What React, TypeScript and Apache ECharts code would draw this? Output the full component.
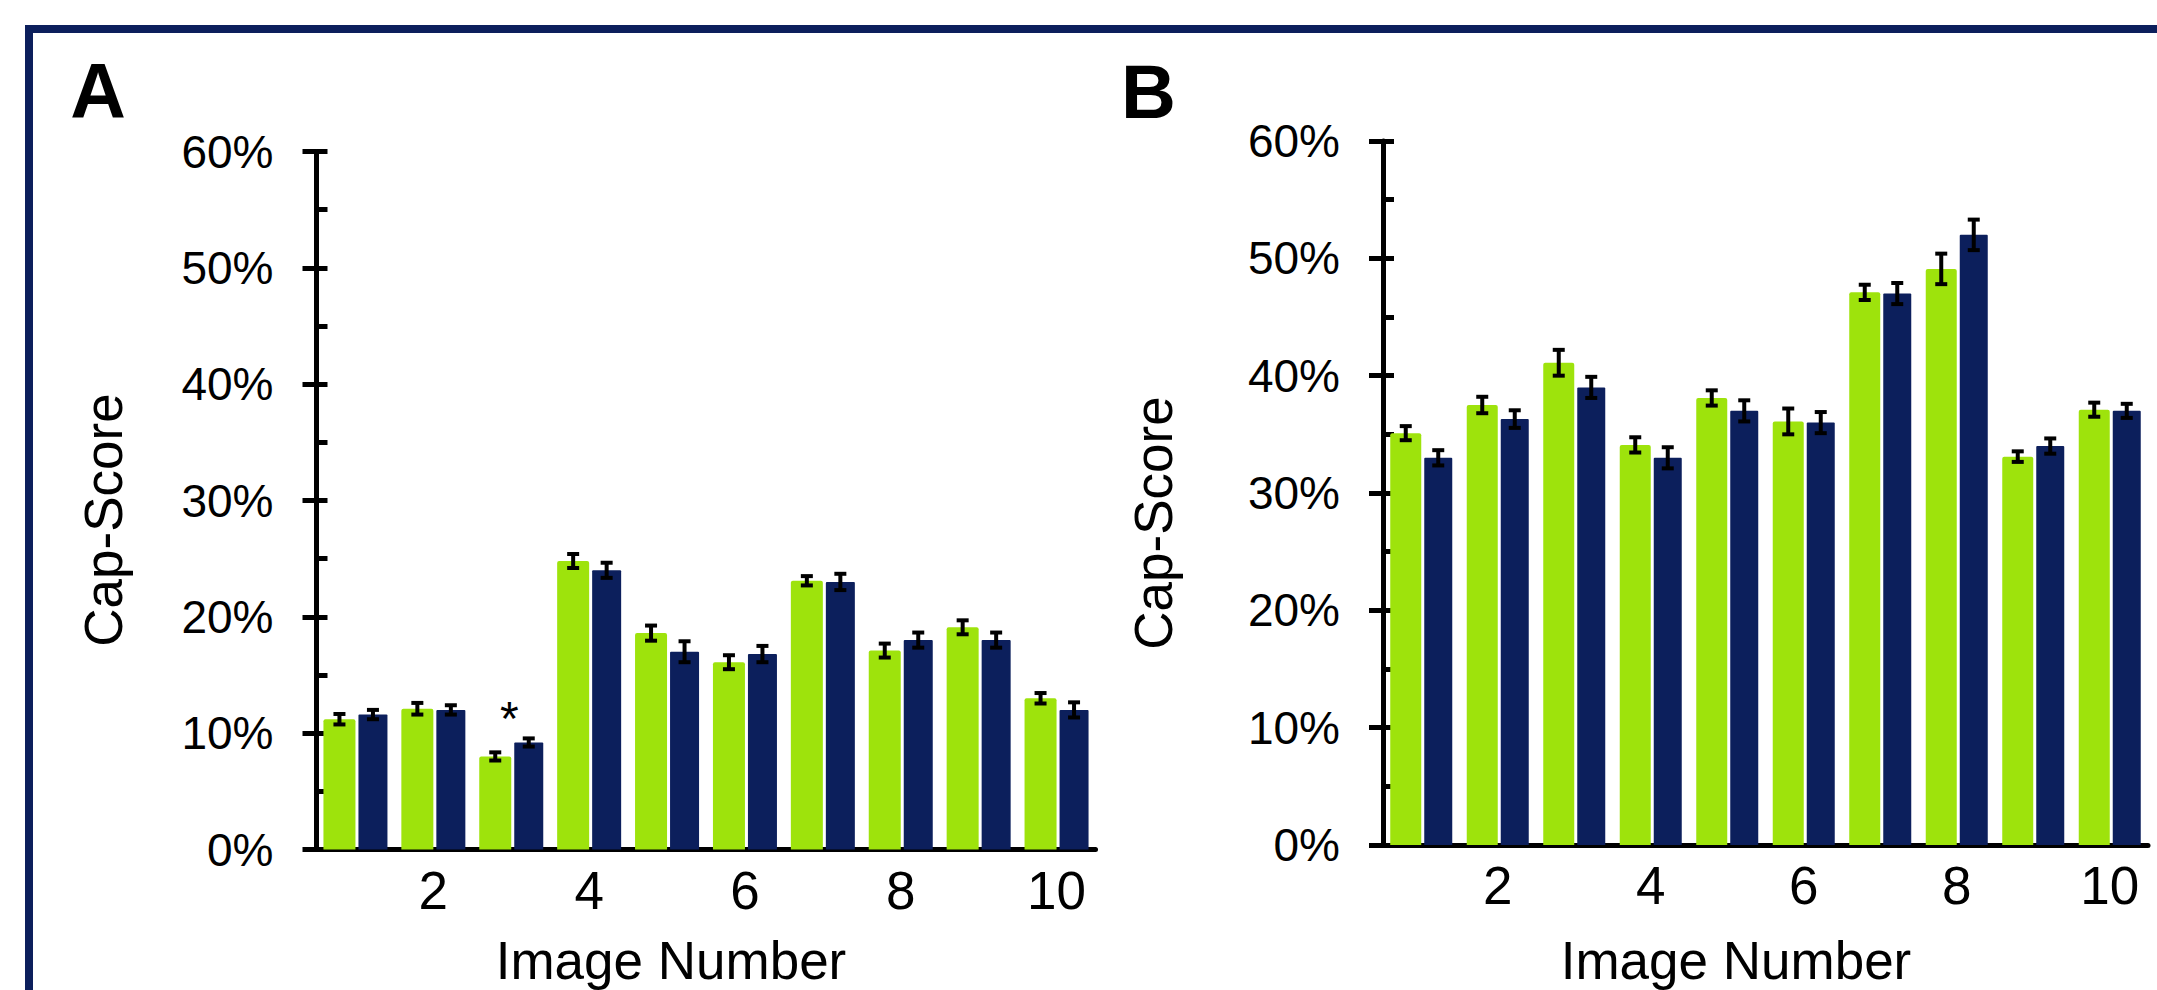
import React, { useEffect, useRef } from 'react';
import * as echarts from 'echarts';

// ---------- data ----------
const categories = ['1', '2', '3', '4', '5', '6', '7', '8', '9', '10'];

const panelAGreen = [11.2, 12.1, 8.0, 24.8, 18.6, 16.1, 23.1, 17.1, 19.1, 13.0];
const panelAGreenErr = [0.45, 0.5, 0.35, 0.6, 0.65, 0.6, 0.4, 0.6, 0.6, 0.45];
const panelABlue = [11.6, 12.0, 9.2, 24.0, 17.0, 16.8, 23.0, 18.0, 18.0, 12.0];
const panelABlueErr = [0.4, 0.4, 0.35, 0.65, 0.9, 0.7, 0.7, 0.65, 0.65, 0.65];
const panelAMarks = ['', '', '*', '', '', '', '', '', '', ''];

const panelBGreen = [35.1, 37.5, 41.1, 34.1, 38.1, 36.1, 47.1, 49.1, 33.1, 37.1];
const panelBGreenErr = [0.6, 0.7, 1.1, 0.65, 0.65, 1.1, 0.65, 1.3, 0.45, 0.6];
const panelBBlue = [33.0, 36.3, 39.0, 33.0, 37.0, 36.0, 47.0, 52.0, 34.0, 37.0];
const panelBBlueErr = [0.65, 0.75, 0.9, 0.9, 0.9, 0.9, 0.9, 1.3, 0.65, 0.6];

const yMin = 0;
const yMax = 60;
const yMajor = 10;
const yMinor = 5;

const panelLabels = ['A', 'B'];
const yAxisTitle = 'Cap-Score';
const xAxisTitle = 'Image Number';

// ---------- style ----------
const FONT = "'Liberation Sans', Arial, Helvetica, sans-serif";
const GREEN = '#9ee30c';
const NAVY = '#0c1f5c';
const BLACK = '#000000';

const W = 2157;
const H = 990;

type Panel = {
  grid: { left: number; top: number; width: number; height: number };
  green: number[];
  greenErr: number[];
  blue: number[];
  blueErr: number[];
  marks: string[];
  gW: number;
  bW: number;
  gap: number;
};

const panels: Panel[] = [
  {
    grid: { left: 316.5, top: 151.5, width: 779, height: 698 },
    green: panelAGreen,
    greenErr: panelAGreenErr,
    blue: panelABlue,
    blueErr: panelABlueErr,
    marks: panelAMarks,
    gW: 32,
    bW: 29,
    gap: 3,
  },
  {
    grid: { left: 1383, top: 141, width: 765, height: 704 },
    green: panelBGreen,
    greenErr: panelBGreenErr,
    blue: panelBBlue,
    blueErr: panelBBlueErr,
    marks: panelAMarks.map(() => ''),
    gW: 31,
    bW: 28,
    gap: 3,
  },
];

function buildOption() {
  const grid: any[] = [];
  const xAxis: any[] = [];
  const yAxis: any[] = [];
  const series: any[] = [];

  panels.forEach((p, gi) => {
    grid.push({
      left: p.grid.left,
      top: p.grid.top,
      width: p.grid.width,
      height: p.grid.height,
      containLabel: false,
      outerBoundsMode: 'none',
    });
    xAxis.push({
      type: 'category',
      gridIndex: gi,
      data: categories,
      boundaryGap: true,
      axisLine: { show: true, onZero: false, lineStyle: { color: BLACK, width: 5 } },
      axisTick: { show: false },
      splitLine: { show: false },
      axisLabel: {
        show: true,
        interval: (index: number) => index % 2 === 1,
        color: BLACK,
        fontFamily: FONT,
        fontSize: 53,
        margin: 14,
      },
    });
    // main value axis with outward major ticks + labels
    yAxis.push({
      type: 'value',
      gridIndex: gi,
      position: 'left',
      min: yMin,
      max: yMax,
      interval: yMajor,
      axisLine: { show: true, lineStyle: { color: BLACK, width: 5 } },
      axisTick: { show: true, inside: false, length: 14, lineStyle: { color: BLACK, width: 5 } },
      splitLine: { show: false },
      axisLabel: {
        show: true,
        formatter: '{value}%',
        color: BLACK,
        fontFamily: FONT,
        fontSize: 46,
        margin: 43,
      },
    });
    // helper value axis for inside (minor + major) ticks
    yAxis.push({
      type: 'value',
      gridIndex: gi,
      position: 'left',
      min: yMin,
      max: yMax,
      interval: yMinor,
      axisLine: { show: false },
      axisTick: { show: true, inside: true, length: 11, lineStyle: { color: BLACK, width: 5 } },
      splitLine: { show: false },
      axisLabel: { show: false },
    });

    const yIdx = gi * 2;
    const barGap = ((p.gap / p.gW) * 100).toFixed(2) + '%';
    series.push({
      type: 'bar',
      xAxisIndex: gi,
      yAxisIndex: yIdx,
      data: p.green,
      barWidth: p.gW,
      barGap,
      itemStyle: { color: GREEN, borderRadius: [2, 2, 0, 0] },
      z: 2,
    });
    series.push({
      type: 'bar',
      xAxisIndex: gi,
      yAxisIndex: yIdx,
      data: p.blue,
      barWidth: p.bW,
      barGap,
      itemStyle: { color: NAVY, borderRadius: [1, 1, 0, 0] },
      z: 2,
    });

    const total = p.gW + p.gap + p.bW;
    const offsets = [-total / 2 + p.gW / 2, -total / 2 + p.gW + p.gap + p.bW / 2];
    const errData: number[][] = [];
    p.green.forEach((v, i) => errData.push([i, v, p.greenErr[i], 0]));
    p.blue.forEach((v, i) => errData.push([i, v, p.blueErr[i], 1]));

    series.push({
      type: 'custom',
      xAxisIndex: gi,
      yAxisIndex: yIdx,
      data: errData,
      z: 5,
      encode: { x: 0, y: 1 },
      renderItem: (params: any, api: any) => {
        const i = api.value(0);
        const v = api.value(1);
        const e = api.value(2);
        const slot = api.value(3);
        const top = api.coord([i, v + e]);
        const bot = api.coord([i, v - e]);
        const x = top[0] + offsets[slot];
        const style = { stroke: BLACK, lineWidth: 4 };
        return {
          type: 'group',
          children: [
            { type: 'line', shape: { x1: x, y1: top[1], x2: x, y2: bot[1] }, style },
            { type: 'line', shape: { x1: x - 6, y1: top[1], x2: x + 6, y2: top[1] }, style },
            { type: 'line', shape: { x1: x - 6, y1: bot[1], x2: x + 6, y2: bot[1] }, style },
          ],
        };
      },
    });

    const markData: any[] = [];
    p.marks.forEach((m, i) => {
      if (m) {
        markData.push([i, Math.max(p.green[i] + p.greenErr[i], p.blue[i] + p.blueErr[i]), i]);
      }
    });
    if (markData.length) {
      series.push({
        type: 'custom',
        xAxisIndex: gi,
        yAxisIndex: yIdx,
        data: markData,
        z: 6,
        encode: { x: 0, y: 1 },
        renderItem: (params: any, api: any) => {
          const i = api.value(0);
          const v = api.value(1);
          const pt = api.coord([i, v]);
          return {
            type: 'text',
            x: pt[0] - 2,
            y: pt[1] - 20,
            style: {
              text: p.marks[i],
              fill: BLACK,
              fontFamily: FONT,
              fontSize: 48,
              align: 'center',
              verticalAlign: 'middle',
            },
          };
        },
      });
    }
  });

  const graphic: any[] = [
    {
      type: 'rect',
      silent: true,
      shape: { x: 29, y: 29, width: 2400, height: 1200 },
      style: { fill: 'none', stroke: NAVY, lineWidth: 8 },
      z: 0,
    },
    {
      type: 'text',
      x: 98,
      y: 91,
      style: { text: panelLabels[0], fill: BLACK, fontFamily: FONT, fontSize: 77, fontWeight: 'bold', align: 'center', verticalAlign: 'middle' },
    },
    {
      type: 'text',
      x: 1148.5,
      y: 91,
      style: { text: panelLabels[1], fill: BLACK, fontFamily: FONT, fontSize: 76, fontWeight: 'bold', align: 'center', verticalAlign: 'middle' },
    },
    {
      type: 'text',
      x: 103,
      y: 520,
      rotation: Math.PI / 2,
      style: { text: yAxisTitle, fill: BLACK, fontFamily: FONT, fontSize: 53, align: 'center', verticalAlign: 'middle' },
    },
    {
      type: 'text',
      x: 1153,
      y: 523,
      rotation: Math.PI / 2,
      style: { text: yAxisTitle, fill: BLACK, fontFamily: FONT, fontSize: 53, align: 'center', verticalAlign: 'middle' },
    },
    {
      type: 'text',
      x: 671,
      y: 960,
      style: { text: xAxisTitle, fill: BLACK, fontFamily: FONT, fontSize: 53, align: 'center', verticalAlign: 'middle' },
    },
    {
      type: 'text',
      x: 1736,
      y: 960,
      style: { text: xAxisTitle, fill: BLACK, fontFamily: FONT, fontSize: 53, align: 'center', verticalAlign: 'middle' },
    },
  ];

  return {
    animation: false,
    backgroundColor: '#ffffff',
    textStyle: { fontFamily: FONT },
    grid,
    xAxis,
    yAxis,
    series,
    graphic,
  };
}

export default function App() {
  const ref = useRef<HTMLDivElement>(null);
  useEffect(() => {
    if (!ref.current) return;
    const chart = echarts.init(ref.current, undefined, { renderer: 'svg', width: W, height: H });
    chart.setOption(buildOption() as any);
    return () => {
      chart.dispose();
    };
  }, []);
  return (
    <div
      ref={ref}
      style={{ position: 'fixed', left: 0, top: 0, width: W, height: H, background: '#ffffff' }}
    />
  );
}
